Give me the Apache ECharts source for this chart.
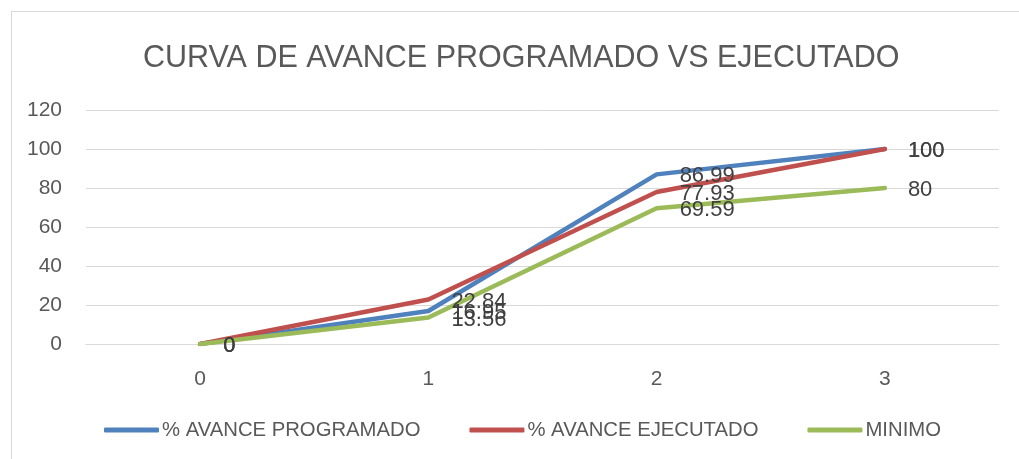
<!DOCTYPE html>
<html>
<head>
<meta charset="utf-8">
<script src="https://cdn.jsdelivr.net/npm/echarts@6/dist/echarts.min.js"></script>
<style>
  html, body { margin: 0; padding: 0; background: #fff; overflow: hidden; }
  .frame {
    position: absolute; left: 11px; top: 11px; width: 1100px; height: 600px;
    border: 1px solid #d9d9d9; box-sizing: border-box;
  }
  #chart { position: absolute; left: 0; top: 0; width: 1019px; height: 459px; }
</style>
</head>
<body>
<div class="frame"></div>
<div id="chart"></div>
<script>
// periods
var categories = ['0', '1', '2', '3']
// % avance programado
var programado = [0, 16.95, 86.99, 100]
// % avance ejecutado
var ejecutado = [0, 22.84, 77.93, 100]
// minimo
var minimo = [0, 13.56, 69.59, 80]

var font = 'Liberation Sans'
var chart = echarts.init(document.getElementById('chart'))

function serie(name, data, color) {
  return {
    name: name,
    type: 'line',
    data: data,
    symbol: 'circle',
    symbolSize: 0,
    showSymbol: true,
    lineStyle: { color: color, width: 4.5, cap: 'round', join: 'round' },
    itemStyle: { color: color },
    label: {
      show: true,
      position: 'right',
      distance: 23,
      offset: [0, 2],
      color: '#404040',
      fontSize: 22,
      fontFamily: font
    },
    z: 2
  }
}

chart.setOption({
  animation: false,
  title: {
    text: 'CURVA DE AVANCE PROGRAMADO VS EJECUTADO',
    left: 138,
    top: 38,
    textStyle: { color: '#595959', fontSize: 30.5, fontWeight: 'normal', fontFamily: font }
  },
  grid: { left: 86, right: 20, top: 110, bottom: 115 },
  legend: {
    bottom: 19,
    left: 104,
    padding: 0,
    itemWidth: 55,
    itemHeight: 5,
    itemGap: 49,
    icon: 'roundRect',
    textStyle: { color: '#595959', fontSize: 20.3, fontFamily: font, padding: [0, 0, 0, -2] },
    data: ['% AVANCE PROGRAMADO', '% AVANCE EJECUTADO', 'MINIMO']
  },
  xAxis: {
    type: 'category',
    data: categories,
    boundaryGap: true,
    axisLine: { lineStyle: { color: '#d9d9d9' } },
    axisTick: { show: false },
    axisLabel: { color: '#595959', fontSize: 21, fontFamily: font, margin: 25 }
  },
  yAxis: {
    type: 'value',
    min: 0,
    max: 120,
    interval: 20,
    axisLine: { show: false },
    axisTick: { show: false },
    splitLine: { lineStyle: { color: '#d9d9d9', width: 1 } },
    axisLabel: { color: '#595959', fontSize: 21, fontFamily: font, margin: 24 }
  },
  series: [
    serie('% AVANCE PROGRAMADO', programado, '#4f81bd'),
    serie('% AVANCE EJECUTADO', ejecutado, '#c0504d'),
    serie('MINIMO', minimo, '#9bbb59')
  ]
})
</script>
</body>
</html>
